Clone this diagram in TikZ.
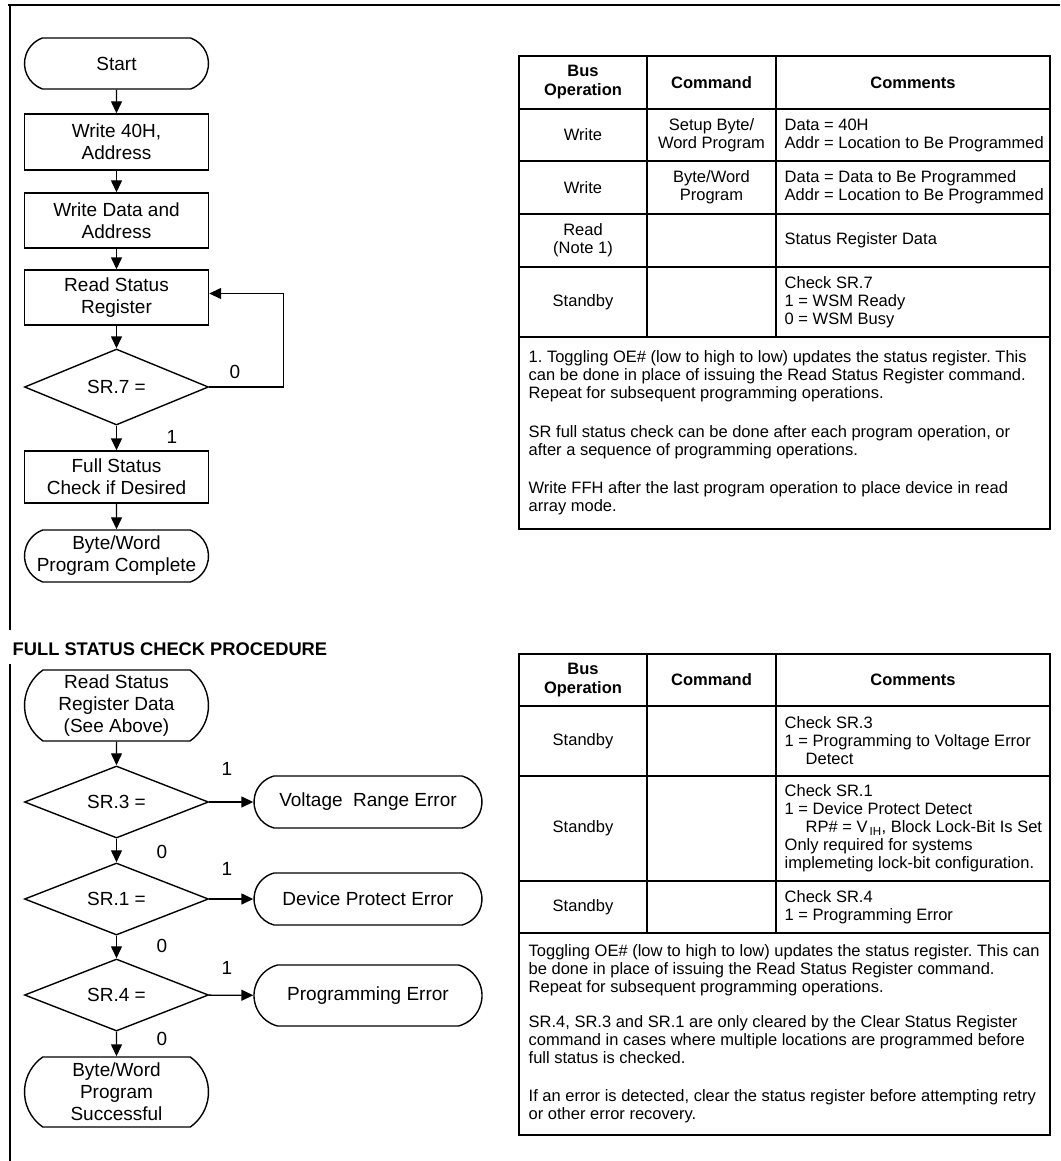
\documentclass[tikz,border=0pt]{standalone}
\usepackage{fontspec}
\setmainfont{Liberation Sans}
\usetikzlibrary{arrows.meta,shapes.geometric,shapes.misc}
\frenchspacing

\begin{document}
\begin{tikzpicture}[x=1pt,y=-1pt,line width=1.4pt,
	flow/.style={font=\fontsize{19}{22}\selectfont},
	proc/.style={draw, flow, align=center, inner sep=0pt, minimum width=184pt, minimum height=56pt},
	term/.style={draw, flow, align=center, inner sep=0pt, rounded rectangle, rounded rectangle arc length=#1, minimum width=184pt},
	term/.default=150,
	test/.style={draw, flow, diamond, inner sep=0pt, minimum width=184pt, minimum height=76pt},
	arr/.style={-{Triangle[length=12pt,width=11pt]}},
	lbl/.style={flow, inner sep=0pt},
	cell/.style={font=\fontsize{16.5}{18}\selectfont, align=center, inner sep=0pt},
	note/.style={font=\fontsize{16.5}{18}\selectfont, align=left, inner sep=0pt, anchor=west},
	head/.style={font=\fontsize{16.5}{19}\selectfont\bfseries, align=center, inner sep=0pt},
	grid/.style={line width=1.7pt}]
	\useasboundingbox (0,0) rectangle (1060,1161);

	% frame
	\draw[line width=2.2pt] (8,5) -- (1060,5);
	\draw[line width=2.2pt] (10,5) -- (10,630);
	\draw[line width=2.2pt] (10,664) -- (10,1161);

	% program flow
	\node[term=140, minimum height=51pt] (start) at (116.5,63.5) {Start};
	\node[proc] (w40) at (116.5,142) {Write 40H,\\Address};
	\node[proc, minimum height=55pt] (wdata) at (116.5,220.5) {Write Data and\\Address};
	\node[proc, minimum height=55pt] (rsr) at (116.5,297.5) {Read Status\\Register};
	\node[test] (sr7) at (116.5,387) {SR.7 =};
	\node[proc, minimum height=52pt] (fsc) at (116.5,477) {Full Status\\Check if Desired};
	\node[term=140, minimum height=52pt] (done) at (116.5,556) {Byte/Word\\\makebox[130pt]{Program Complete}};
	\node[lbl] (one7) at (172,437) {1};
	\node[lbl] (zero7) at (235,372) {0};

	\draw[arr] (start) -- (w40);
	\draw[arr] (w40) -- (wdata);
	\draw[arr] (wdata) -- (rsr);
	\draw[arr] (rsr) -- (sr7);
	\draw[arr] (sr7) -- (fsc);
	\draw[arr] (fsc) -- (done);
	\draw[arr] (sr7.east) -- ++(74,0) |- ([yshift=4pt]rsr.east);

	% full status check
	\node[anchor=west, font=\fontsize{18.3}{20}\selectfont\bfseries, inner sep=0pt] (fscp) at (12,649) {FULL STATUS CHECK PROCEDURE};
	\node[term=110, minimum height=71pt] (rsd) at (116.5,705.5) {Read Status\\Register Data\\(See Above)};
	\node[test, minimum height=70pt] (sr3) at (116.5,802) {SR.3 =};
	\node[test, minimum height=70pt] (sr1) at (116.5,899) {SR.1 =};
	\node[test, minimum height=68pt] (sr4) at (116.5,995) {SR.4 =};
	\node[term=110, minimum height=70pt] (ok) at (116.5,1092) {Byte/Word\\Program\\Successful};
	\node[term, minimum height=52pt, minimum width=228pt] (vre) at (368,802) {Voltage\ \ Range Error};
	\node[term, minimum height=52pt, minimum width=228pt] (dpe) at (368,899) {Device Protect Error};
	\node[term, minimum height=61pt, minimum width=228pt] (pe) at (368,995.5) {Programming Error};
	\node[lbl] (one3) at (227,769) {1};
	\node[lbl] (one1) at (227,869) {1};
	\node[lbl] (one4) at (227,968) {1};
	\node[lbl] (zero3) at (162,852) {0};
	\node[lbl] (zero1) at (162,946) {0};
	\node[lbl] (zero4) at (162,1039) {0};

	\draw[arr] (rsd) -- (sr3);
	\draw[arr] (sr3) -- (sr1);
	\draw[arr] (sr1) -- (sr4);
	\draw[arr] (sr4) -- (ok);
	\draw[arr] (sr3) -- (vre);
	\draw[arr] (sr1) -- (dpe);
	\draw[arr] (sr4) -- (pe);

	% program table
	\draw[grid] (519,56) rectangle (1050,529);
	\foreach \y in {109,161,214,267,337} \draw[grid] (519,\y) -- (1050,\y);
	\foreach \x in {647,776} \draw[grid] (\x,56) -- (\x,337);
	\node[head] (hbus) at (583,82.5) {Bus\\Operation};
	\node[head] (hcmd) at (711.5,82.5) {Command};
	\node[head] (hcom) at (913,82.5) {Comments};
	\node[cell] (opa) at (583,135) {Write};
	\node[cell] (cmda) at (711.5,135) {Setup Byte/\\Word Program};
	\node[note] (coma) at (784,135) {Data = 40H\\Addr = Location to Be Programmed};
	\node[cell] (opb) at (583,187.5) {Write};
	\node[cell] (cmdb) at (711.5,187.5) {Byte/Word\\Program};
	\node[note] (comb) at (784,187.5) {Data = Data to Be Programmed\\Addr = Location to Be Programmed};
	\node[cell] (opc) at (583,240.5) {Read\\(Note 1)};
	\node[note] (comc) at (784,240.5) {Status Register Data};
	\node[cell] (opd) at (583,302) {Standby};
	\node[note] (comd) at (784,302) {Check SR.7\\1 = WSM Ready\\0 = WSM Busy};
	\node[note] (notea) at (528,433) {1. Toggling OE\# (low to high to low) updates the status register. This\\
		can be done in place of issuing the Read Status Register command.\\
		Repeat for subsequent programming operations.\\[21pt]
		SR full status check can be done after each program operation, or\\
		after a sequence of programming operations.\\[20pt]
		Write FFH after the last program operation to place device in read\\
		array mode.};

	% status table
	\draw[grid] (519,654) rectangle (1050,1135);
	\foreach \y in {706,776,881,933} \draw[grid] (519,\y) -- (1050,\y);
	\foreach \x in {647,776} \draw[grid] (\x,654) -- (\x,933);
	\node[head] (sbus) at (583,680) {Bus\\Operation};
	\node[head] (scmd) at (711.5,680) {Command};
	\node[head] (scom) at (913,680) {Comments};
	\node[cell] (sopa) at (583,741) {Standby};
	\node[note] (scoma) at (784,741) {Check SR.3\\1 = Programming to Voltage Error\\\hspace*{21pt}Detect};
	\node[cell] (sopb) at (583,828.5) {Standby};
	\node[note] (scomb) at (784,828.5) {Check SR.1\\1 = Device Protect Detect\\\hspace*{21pt}RP\# = V\textsubscript{\,IH}, Block Lock-Bit Is Set\\Only required for systems\\implemeting lock-bit configuration.};
	\node[cell] (sopc) at (583,907) {Standby};
	\node[note] (scomc) at (784,907) {Check SR.4\\1 = Programming Error};
	\node[note] (noteb) at (528,1034) {Toggling OE\# (low to high to low) updates the status register. This can\\
		be done in place of issuing the Read Status Register command.\\
		Repeat for subsequent programming operations.\\[17pt]
		SR.4, SR.3 and SR.1 are only cleared by the Clear Status Register\\
		command in cases where multiple locations are programmed before\\
		full status is checked.\\[20pt]
		If an error is detected, clear the status register before attempting retry\\
		or other error recovery.};
\end{tikzpicture}
\end{document}
